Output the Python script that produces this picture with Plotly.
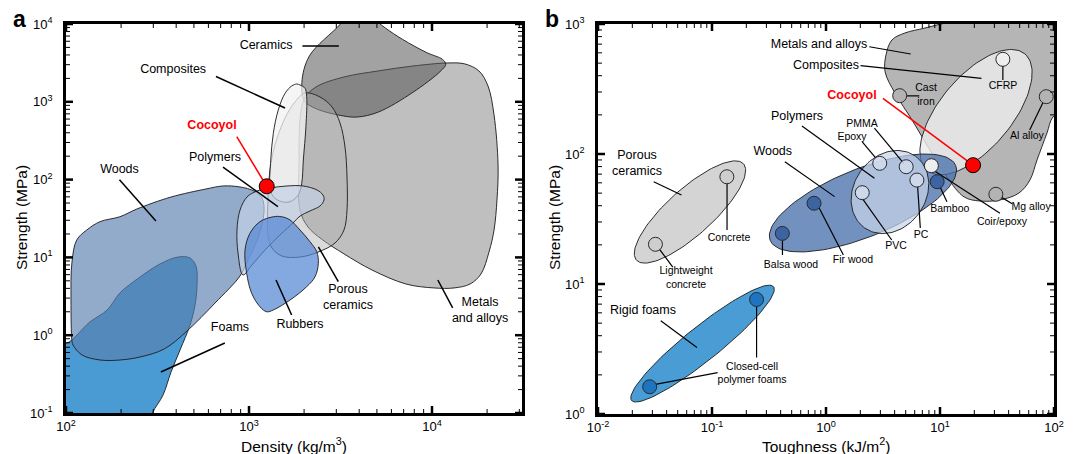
import numpy as np
import plotly.graph_objects as go

FONT = "Liberation Sans, Arial, sans-serif"
W, H = 1077, 454

# ======================= DATA =======================
# ---- Panel a: outlines of material families (density kg/m^3, strength MPa)
metals_a_density = [2000, 2323, 3304, 5070, 7870, 12220, 15140, 18060, 20230, 21830, 22960, 22650,
                    21830, 20480, 18520, 16140, 13200, 10260, 7210, 4700, 3304, 2535, 2100, 1900, 1877, 1900]
metals_a_strength = [1087, 1549, 2084, 2490, 2884, 3155, 3065, 2490, 1596, 676, 154, 54.7,
                     22.5, 11.7, 6.12, 4.55, 4.05, 4.05, 4.55, 6.89, 11.1, 16.7, 24.6, 40.6, 178.6, 583]

ceramics_a_density = [3700, 3162, 2138, 1945, 2005, 2333, 3304, 3936, 5105, 7870, 11170, 11890,
                      11400, 9380, 6920, 5560, 4890, 4300]
ceramics_a_strength = [16000, 10000, 3882, 1775, 1035, 813, 656, 638, 740, 1325, 2495, 3034,
                       3516, 4276, 6325, 8890, 11360, 16000]

porous_a_density = [2023, 2443, 2843, 3143, 3347, 3432, 3432, 3304, 2951, 2383, 1900, 1515,
                    1335, 1270, 1270, 1303, 1387, 1574, 1782]
porous_a_strength = [1297, 1153, 858, 534, 262, 108, 40.6, 22.5, 15.3, 11.7, 10.1, 10.4,
                     13.2, 19.4, 54.7, 133, 279, 620, 993]

composites_a_density = [1900, 2023, 2066, 2047, 1981, 1941, 1858, 1675, 1510, 1358, 1303, 1315,
                        1358, 1445, 1574, 1711, 1824]
composites_a_strength = [1644, 1492, 1164, 479, 178.6, 89.6, 63.4, 52, 52, 60.3, 81, 178.6,
                         394, 785, 1286, 1596, 1694]

foams_a_density = [85, 85, 101, 135, 168, 197, 254, 326, 409, 476, 513, 520, 507, 476, 420, 375,
                   339, 295, 238]
foams_a_strength = [0.01, 0.8, 0.79, 1.48, 2.11, 3.49, 5.6, 8.22, 10.1, 9.83, 7.75, 4.41, 2.44,
                    1.35, 0.646, 0.337, 0.17, 0.097, 0.0185]

woods_a_density = [107.8, 106.5, 107.8, 114.4, 129.8, 153.5, 197, 244, 375, 582, 721, 893, 1065,
                   1178, 1208, 1119, 975, 893, 652, 458, 344, 254, 197, 153.5, 122.3, 109.2]
woods_a_strength = [0.842, 2.83, 8.7, 16.7, 22.5, 28.8, 33.3, 41.9, 59.7, 75.7, 82.8, 80.4, 71.3,
                    57.9, 38.3, 17.7, 8.73, 5.77, 2.59, 1.13, 0.665, 0.525, 0.48, 0.48, 0.557, 0.748]

polymers_a_density = [927, 871, 860, 893, 975, 1106, 1303, 1614, 1974, 2353, 2537, 2570, 2443,
                      2153, 1900, 1740, 1476, 1222, 1037]
polymers_a_strength = [5.94, 11.4, 22.5, 40.6, 59.7, 71.3, 78, 82.8, 82.8, 73.5, 63.4, 54.7, 45.8,
                       39.5, 34, 27.7, 19.4, 12.4, 7.98]

rubbers_a_density = [1358, 1148, 1012, 951, 971, 1034, 1148, 1250, 1358, 1675, 2066, 2296, 2393,
                     2346, 2155, 1900, 1675, 1510]
rubbers_a_strength = [33.3, 28.8, 20.4, 12.4, 6.25, 3.46, 2.32, 2.0, 2.11, 2.83, 4.2, 5.65, 8.39,
                      11.8, 15.9, 22.5, 30.3, 33.3]

# Cocoyol (this work)
cocoyol_density = 1250
cocoyol_strength = 82
cocoyol_toughness = 19.5

# ---- Panel b: family envelopes (centre toughness kJ/m^2, centre strength MPa)
b_families = ["Porous ceramics", "Rigid foams", "Woods", "Polymers", "Composites"]
b_center_toughness = [0.0641, 0.0826, 2.11, 3.64, 20.7]
b_center_strength = [35.8, 3.48, 42, 51, 210]

metals_b_toughness = [3.30, 3.36, 3.79, 4.93, 7.38, 12.2, 22.4, 138, 138, 98, 86.8, 71, 61.5,
                      49.3, 33.6, 22.4, 16.3, 11.5, 8.17, 5.68, 4.03]
metals_b_strength = [428, 578, 754, 853, 931, 1036, 1112, 1282, 238, 193, 145, 90, 63.1,
                     50.1, 44.3, 43.5, 46.7, 66.5, 107, 183, 294]

# individual materials (panel b)
b_materials = ["Concrete", "Lightweight concrete", "Closed-cell foam A", "Closed-cell foam B",
               "Balsa wood", "Fir wood", "Bamboo", "Epoxy", "PMMA", "PVC", "PC", "Coir/epoxy",
               "Cast iron", "CFRP", "Al alloy", "Mg alloy"]
b_mat_toughness = [0.135, 0.0319, 0.0284, 0.246, 0.414, 0.785, 9.44, 2.96, 5.05, 2.08, 6.27, 8.4,
                   4.43, 35.6, 85.5, 30.9]
b_mat_strength = [66.8, 20.2, 1.62, 7.6, 24.5, 41.8, 61.2, 84.8, 79.8, 50.4, 63, 81.3,
                  281, 535, 276, 49]
b_mat_group = ["ceramic", "ceramic", "foam", "foam", "wood", "wood", "wood", "polymer", "polymer",
               "polymer", "polymer", "composite", "metal", "composite", "metal", "metal"]

# ======================= LAYOUT GEOMETRY / STYLE =======================
A_L, A_R, TOP, A_B = 66, 522, 24, 413
B_L, B_R, B_B = 598, 1054, 414
XA_RANGE = [2, 2 + (A_R - A_L) / 183.0]
YA_RANGE = [-1, 4]
XB_RANGE = [-2, 2]
YB_RANGE = [0, 3]
KX = (B_R - B_L) / 4.0
KY = (B_B - TOP) / 3.0

OUTLINE = "rgba(35,35,35,0.95)"

# ellipse geometry for panel b families (semi-axes in px, angle deg)
ELL_GEOM = {"Porous ceramics": (72, 23, 42), "Rigid foams": (91, 17, 38.7), "Woods": (100, 34, 22),
            "Polymers": (44, 36, 55), "Composites": (76, 36, 50)}
ELL_FILL = {"Porous ceramics": "rgba(195,195,195,0.72)", "Rigid foams": "rgba(60,148,210,0.93)",
            "Woods": "rgba(70,110,170,0.76)", "Polymers": "rgba(200,212,234,0.72)",
            "Composites": "rgba(236,236,236,0.82)"}
CIRC_FILL = {"ceramic": "rgba(205,205,205,0.9)", "foam": "#1f74c2", "wood": "#3c64a2",
             "polymer": "rgba(210,220,236,0.85)", "composite": "#eeeeee", "metal": "#b3b3b3"}

fig = go.Figure()


def closed(xs, ys):
    return list(xs) + [xs[0]], list(ys) + [ys[0]]


def region(xs, ys, fill, xa="x", ya="y"):
    cx, cy = closed(xs, ys)
    fig.add_trace(go.Scatter(x=cx, y=cy, mode="lines", fill="toself", fillcolor=fill,
                             line=dict(color=OUTLINE, width=1, shape="spline", smoothing=1.0),
                             xaxis=xa, yaxis=ya, hoverinfo="skip", showlegend=False))


def segment(p0, p1, xa, ya, color="black", width=1.5):
    fig.add_trace(go.Scatter(x=[p0[0], p1[0]], y=[p0[1], p1[1]], mode="lines",
                             line=dict(color=color, width=width), xaxis=xa, yaxis=ya,
                             hoverinfo="skip", showlegend=False))


def label(x, y, text, xa, ya, size=12.5, color="black", bold=False):
    t = "<b>%s</b>" % text if bold else text
    fig.add_trace(go.Scatter(x=[x], y=[y], mode="text", text=[t],
                             textfont=dict(family=FONT, size=size, color=color),
                             textposition="middle center", xaxis=xa, yaxis=ya,
                             cliponaxis=False, hoverinfo="skip", showlegend=False))


# ---------------- Panel a ----------------
region(metals_a_density, metals_a_strength, "rgba(128,128,128,0.5)")
region(ceramics_a_density, ceramics_a_strength, "rgba(85,85,85,0.55)")
region(porous_a_density, porous_a_strength, "rgba(175,175,175,0.45)")
region(composites_a_density, composites_a_strength, "rgba(242,242,242,0.75)")
region(foams_a_density, foams_a_strength, "rgb(74,155,212)")
region(woods_a_density, woods_a_strength, "rgba(89,127,176,0.66)")
region(polymers_a_density, polymers_a_strength, "rgba(195,208,230,0.7)")
region(rubbers_a_density, rubbers_a_strength, "rgba(85,135,212,0.72)")

LAB_A = [
    (1239, 5215, "Ceramics", (1959, 5215), (3097, 5215)),
    (385, 2566, "Composites", (660, 2113), (1574, 832)),
    (652, 190, "Polymers", (721, 145), (1439, 44.9)),
    (196, 133, "Woods", (196, 99.3), (310, 29.4)),
    (787, 1.24, "Foams", (738, 0.794), (330, 0.337)),
    (1900, 1.35, "Rubbers", (1710, 1.82), (1405, 5.13)),
    (3475, 3.0, "Porous<br>ceramics", (3076, 4.87), (2394, 13.7)),
    (18300, 2.05, "Metals<br>and alloys", (10760, 5.12), (12970, 2.24)),
]
for lx_, ly_, txt, p0, p1 in LAB_A:
    segment(p0, p1, "x", "y")
    label(lx_, ly_, txt, "x", "y")

segment((857, 356), (cocoyol_density, cocoyol_strength), "x", "y", color="red", width=1.5)
label(628, 489, "Cocoyol", "x", "y", color="red", bold=True)
fig.add_trace(go.Scatter(x=[cocoyol_density], y=[cocoyol_strength], mode="markers",
                         marker=dict(size=15, color="#ff0000", line=dict(color="black", width=1)),
                         xaxis="x", yaxis="y", hoverinfo="skip", showlegend=False))

# ---------------- Panel b ----------------
def ellipse(name, T, S):
    a, b, ang = ELL_GEOM[name]
    th = np.deg2rad(ang)
    t = np.linspace(0, 2 * np.pi, 121)
    u0, v0 = np.log10(T) * KX, np.log10(S) * KY
    u = u0 + a * np.cos(t) * np.cos(th) - b * np.sin(t) * np.sin(th)
    v = v0 + a * np.cos(t) * np.sin(th) + b * np.sin(t) * np.cos(th)
    fig.add_trace(go.Scatter(x=10 ** (u / KX), y=10 ** (v / KY), mode="lines", fill="toself",
                             fillcolor=ELL_FILL[name], line=dict(color=OUTLINE, width=1),
                             xaxis="x2", yaxis="y2", hoverinfo="skip", showlegend=False))


fam = dict(zip(b_families, zip(b_center_toughness, b_center_strength)))
ellipse("Porous ceramics", *fam["Porous ceramics"])
ellipse("Rigid foams", *fam["Rigid foams"])
region(metals_b_toughness, metals_b_strength, "rgba(150,150,150,0.7)", "x2", "y2")
ellipse("Composites", *fam["Composites"])
ellipse("Woods", *fam["Woods"])
ellipse("Polymers", *fam["Polymers"])

LEAD_B = [
    ((0.0308, 61.2), (0.054, 48.4)),      # porous ceramics
    ((0.1355, 61), (0.1355, 26)),         # concrete
    ((0.0343, 18.7), (0.0453, 13.5)),     # lightweight concrete
    ((0.0355, 5.22), (0.0738, 3.25)),     # rigid foams
    ((0.246, 6.7), (0.246, 2.72)),        # closed-cell (upper)
    ((0.0319, 1.69), (0.112, 2.08)),      # closed-cell (lower)
    ((0.4355, 87.3), (1.19, 47)),         # woods
    ((0.415, 21.6), (0.415, 16.7)),       # balsa
    ((0.873, 38.2), (1.42, 16.7)),        # fir
    ((0.615, 164), (2.66, 65)),           # polymers
    ((2.66, 158), (4.81, 84.7)),          # PMMA
    ((2.08, 124), (2.75, 92.7)),          # epoxy
    ((2.08, 45.6), (3.77, 21.8)),         # PVC
    ((6.37, 55.7), (6.72, 27)),           # PC
    ((10, 56), (11.5, 43)),               # bamboo
    ((8.69, 75.4), (33.6, 35)),           # coir/epoxy
    ((2.4, 668), (5.53, 588)),            # metals
    ((2.01, 478), (23.1, 382)),           # composites
    ((5.06, 280), (6.58, 280)),           # cast iron
    ((35.6, 475), (35.6, 371)),           # CFRP
    ((80.7, 252), (61.2, 153)),           # Al alloy
    ((33.8, 47), (43, 41.5)),             # Mg alloy
]
for p0, p1 in LEAD_B:
    segment(p0, p1, "x2", "y2", width=1.2)

fig.add_trace(go.Scatter(x=b_mat_toughness, y=b_mat_strength, mode="markers",
                         marker=dict(size=14, color=[CIRC_FILL[g] for g in b_mat_group],
                                     line=dict(color="#2a2a2a", width=1)),
                         xaxis="x2", yaxis="y2", hoverinfo="skip", showlegend=False))

BIG_B = [
    (0.022, 83.8, "Porous<br>ceramics"), (0.0248, 6.2, "Rigid foams"), (0.341, 103.5, "Woods"),
    (0.557, 193, "Polymers"), (0.869, 689, "Metals and alloys"), (1.0, 475, "Composites"),
]
for x_, y_, t_ in BIG_B:
    label(x_, y_, t_, "x2", "y2", size=12.5)

SMALL_B = [
    (0.141, 22.6, "Concrete"), (0.0592, 11.1, "Lightweight<br>concrete"),
    (0.2244, 2.03, "Closed-cell<br>polymer foams"), (0.493, 14, "Balsa wood"),
    (1.725, 15.3, "Fir wood"), (2.07, 170, "PMMA"), (1.69, 135, "Epoxy"), (4.11, 19.6, "PVC"),
    (6.81, 23.8, "PC"), (12.2, 37.8, "Bamboo"), (35, 30, "Coir/epoxy"), (7.54, 284, "Cast<br>iron"),
    (35.7, 334, "CFRP"), (57.9, 137.5, "Al alloy"), (63, 39.1, "Mg alloy"),
]
for x_, y_, t_ in SMALL_B:
    label(x_, y_, t_, "x2", "y2", size=10.5)

segment((3.16, 268), (cocoyol_toughness, cocoyol_strength), "x2", "y2", color="red", width=1.5)
label(1.69, 279, "Cocoyol", "x2", "y2", color="red", bold=True)
fig.add_trace(go.Scatter(x=[cocoyol_toughness], y=[cocoyol_strength], mode="markers",
                         marker=dict(size=15, color="#ff0000", line=dict(color="black", width=1)),
                         xaxis="x2", yaxis="y2", hoverinfo="skip", showlegend=False))


# ---------------- tick marks on all four sides (drawn as short line traces) ----------------
def tick_traces(xa, ya, xr, yr, xpix, ypix):
    dx = (xr[1] - xr[0]) / xpix      # decades per pixel
    dy = (yr[1] - yr[0]) / ypix
    for major, length, width in ((False, 4.0, 1.0), (True, 7.0, 2.5)):
        xs, ys = [], []
        mults = [1] if major else range(2, 10)
        for k in range(int(np.floor(xr[0])), int(np.ceil(xr[1])) + 1):
            for m in mults:
                lv = k + np.log10(m)
                if xr[0] - 1e-9 <= lv <= xr[1] + 1e-9:
                    v = 10 ** lv
                    xs += [v, v, None, v, v, None]
                    ys += [10 ** yr[0], 10 ** (yr[0] + length * dy), None,
                           10 ** yr[1], 10 ** (yr[1] - length * dy), None]
        for k in range(int(np.floor(yr[0])), int(np.ceil(yr[1])) + 1):
            for m in mults:
                lv = k + np.log10(m)
                if yr[0] - 1e-9 <= lv <= yr[1] + 1e-9:
                    v = 10 ** lv
                    ys += [v, v, None, v, v, None]
                    xs += [10 ** xr[0], 10 ** (xr[0] + length * dx), None,
                           10 ** xr[1], 10 ** (xr[1] - length * dx), None]
        fig.add_trace(go.Scatter(x=xs, y=ys, mode="lines", line=dict(color="black", width=width),
                                 xaxis=xa, yaxis=ya, cliponaxis=False, connectgaps=False,
                                 hoverinfo="skip", showlegend=False))


tick_traces("x", "y", XA_RANGE, YA_RANGE, A_R - A_L, A_B - TOP)
tick_traces("x2", "y2", XB_RANGE, YB_RANGE, B_R - B_L, B_B - TOP)


# ---------------- Axes ----------------
def pow_text(ks):
    return ["10<sup>%d</sup>" % k for k in ks]


def axis(domain, rng, ks, anchor, standoff):
    return dict(type="log", domain=domain, range=rng, anchor=anchor,
                tickmode="array", tickvals=[10.0 ** k for k in ks], ticktext=pow_text(ks),
                ticks="", showline=True, linewidth=2.5, linecolor="black", mirror=True,
                showgrid=False, zeroline=False, automargin=False,
                ticklabelstandoff=standoff,
                tickfont=dict(family=FONT, size=13, color="black"))


ydom_a = [1 - A_B / H, 1 - TOP / H]
ydom_b = [1 - B_B / H, 1 - TOP / H]
fig.update_layout(
    width=W, height=H, margin=dict(l=0, r=0, t=0, b=0),
    paper_bgcolor="white", plot_bgcolor="rgba(0,0,0,0)", showlegend=False,
    font=dict(family=FONT, color="black"),
    xaxis=axis([A_L / W, A_R / W], XA_RANGE, [2, 3, 4], "y", 0),
    yaxis=axis(ydom_a, YA_RANGE, [-1, 0, 1, 2, 3, 4], "x", 8),
    xaxis2=axis([B_L / W, B_R / W], XB_RANGE, [-2, -1, 0, 1, 2], "y2", 0),
    yaxis2=axis(ydom_b, YB_RANGE, [0, 1, 2, 3], "x2", 8),
)

ANN = [
    dict(x=19.5, y=19, text="<b>a</b>", size=23),
    dict(x=551.5, y=19, text="<b>b</b>", size=23),
    dict(x=(A_L + A_R) / 2, y=445, text="Density (kg/m<sup>3</sup>)", size=15.5),
    dict(x=(B_L + B_R) / 2, y=445, text="Toughness (kJ/m<sup>2</sup>)", size=15.5),
]
for a in ANN:
    fig.add_annotation(x=a["x"] / W, y=1 - a["y"] / H, xref="paper", yref="paper",
                       text=a["text"], showarrow=False, xanchor="center", yanchor="middle",
                       font=dict(family=FONT, size=a["size"], color="black"))
for xc in (22, 555):
    fig.add_annotation(x=xc / W, y=1 - 218 / H, xref="paper", yref="paper",
                       text="Strength (MPa)", textangle=-90, showarrow=False,
                       xanchor="center", yanchor="middle",
                       font=dict(family=FONT, size=15.5, color="black"))

fig.write_html("out.html")
